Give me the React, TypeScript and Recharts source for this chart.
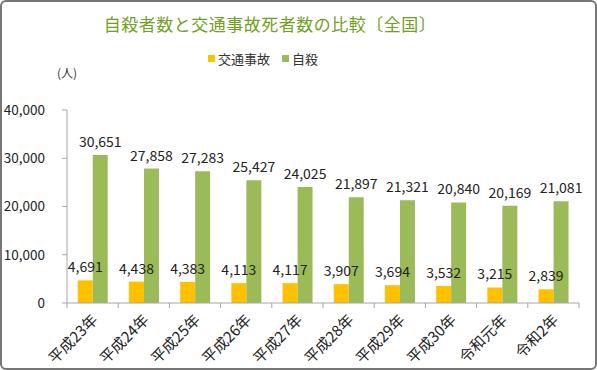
import React from 'react';
import { BarChart, Bar, XAxis, YAxis, Legend, LabelList } from 'recharts';

// --- data ---
const years = ['平成23年', '平成24年', '平成25年', '平成26年', '平成27年', '平成28年', '平成29年', '平成30年', '令和元年', '令和2年'];
const trafficDeaths = [4691, 4438, 4383, 4113, 4117, 3907, 3694, 3532, 3215, 2839];
const suicides = [30651, 27858, 27283, 25427, 24025, 21897, 21321, 20840, 20169, 21081];
const yTicks = [0, 10000, 20000, 30000, 40000];

const rows = years.map((year, i) => ({ year, traffic: trafficDeaths[i], suicide: suicides[i] }));

const FONT = '"Noto Sans CJK JP", "Noto Sans", sans-serif';
const YELLOW = '#FFC000';
const GREEN = '#9BBB59';
const AXIS = '#A6A6A6';

const fmt = (v: any) => String(v).replace(/\B(?=(\d{3})+(?!\d))/g, ',');

// category labels rotated like excel, plus a tick mark between categories
const XTick = ({ x, y, payload, index }: any) => {
  const band = 51.2;
  const tx = x + 6;
  const ty = y + 10;
  return (
    <g>
      {index === 0 && <line x1={x - band / 2} x2={x - band / 2} y1={y - 8} y2={y - 3} stroke={AXIS} />}
      <line x1={x + band / 2} x2={x + band / 2} y1={y - 8} y2={y - 3} stroke={AXIS} />
      <text
        x={tx}
        y={ty}
        transform={`rotate(-45, ${tx}, ${ty})`}
        textAnchor="end"
        fontSize={15}
        fill="#222"
        fontFamily={FONT}
      >
        {payload.value}
      </text>
    </g>
  );
};

const LegendBox = () => (
  <div style={{ display: 'flex', alignItems: 'center', fontFamily: FONT, fontSize: 13, color: '#333' }}>
    <span style={{ width: 7, height: 7, background: YELLOW, display: 'inline-block', marginRight: 3 }} />
    <span>交通事故</span>
    <span style={{ width: 7, height: 7, background: GREEN, display: 'inline-block', marginLeft: 12, marginRight: 3 }} />
    <span>自殺</span>
  </div>
);

export default function App() {
  return (
    <div
      style={{
        position: 'absolute',
        left: 0,
        top: 0,
        width: 597,
        height: 370,
        boxSizing: 'border-box',
        border: '2px solid #767676',
        borderRadius: 6,
        background: '#fff',
        fontFamily: FONT,
      }}
    >
      <div
        style={{
          position: 'absolute',
          left: 0,
          width: 536,
          top: 9,
          textAlign: 'center',
          color: '#6FA01E',
          fontSize: 17,
          fontWeight: 400,
          letterSpacing: 0.5,
        }}
      >
        自殺者数と交通事故死者数の比較〔全国〕
      </div>
      <div style={{ position: 'absolute', left: 55, top: 62, fontSize: 12, color: '#333' }}>(人)</div>
      <div style={{ position: 'absolute', left: -2, top: -2 }}>
        <BarChart
          width={597}
          height={370}
          data={rows}
          margin={{ top: 91, right: 18, bottom: 0, left: 0 }}
          barCategoryGap="21%"
          barGap={0}
        >
          <YAxis
            width={67}
            domain={[0, 40000]}
            ticks={yTicks}
            tickFormatter={fmt}
            axisLine={{ stroke: AXIS }}
            tickLine={{ stroke: AXIS }}
            tickSize={5}
            tickMargin={17}
            tick={{ fontSize: 13.5, fill: '#222', fontFamily: FONT }}
          />
          <XAxis
            dataKey="year"
            height={67}
            axisLine={{ stroke: AXIS }}
            tickLine={false}
            interval={0}
            tick={<XTick />}
          />
          <Legend
            verticalAlign="top"
            content={<LegendBox />}
            wrapperStyle={{ top: 49, left: 208, width: 'auto' }}
          />
          <Bar dataKey="traffic" name="交通事故" fill={YELLOW} isAnimationActive={false}>
            <LabelList dataKey="traffic" position="top" offset={8} formatter={fmt} fontSize={14} fill="#222" fontFamily={FONT} />
          </Bar>
          <Bar dataKey="suicide" name="自殺" fill={GREEN} isAnimationActive={false}>
            <LabelList dataKey="suicide" position="top" offset={8} formatter={fmt} fontSize={14} fill="#222" fontFamily={FONT} />
          </Bar>
        </BarChart>
      </div>
    </div>
  );
}
